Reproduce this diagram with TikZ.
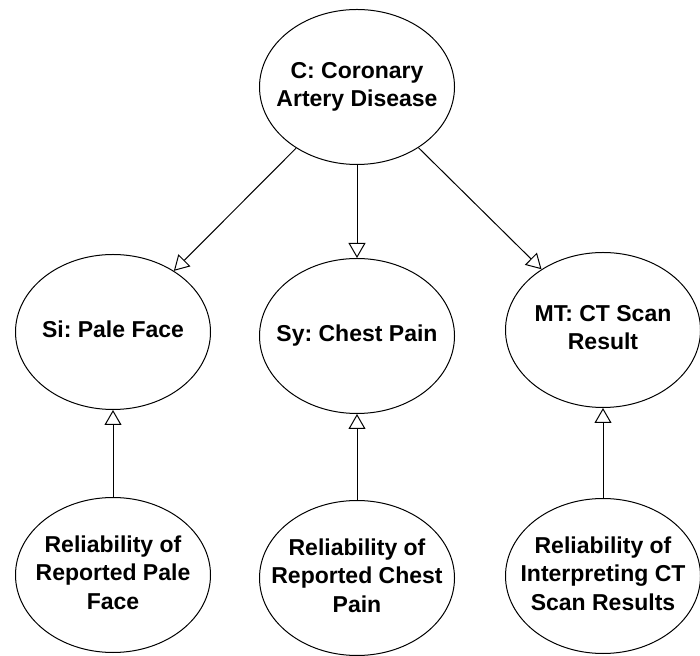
\documentclass[tikz,border=0pt]{standalone}
\usepackage{fontspec}
\setmainfont{Liberation Sans}
\usetikzlibrary{arrows.meta,shapes.geometric}
\newcommand{\nodelines}[1]{\makebox[0pt]{\begin{tabular}{@{}c@{}}#1\end{tabular}}}
\tikzset{
	bnode/.style={draw, ellipse, line width=1pt, minimum width=195pt, minimum height=155pt, inner sep=0pt, font=\bfseries\fontsize{23}{28.5}\selectfont\frenchspacing},
	dep/.style={line width=1pt, -{Triangle[open, width=17pt, length=15pt]}}
}

\begin{document}
\begin{tikzpicture}[x=1pt, y=1pt]
			%%%%% START %%%%%
			\useasboundingbox (0, 0) rectangle (700, 655);
			
			\node[bnode] (cad) at (357, 568) {\nodelines{C: Coronary\\Artery Disease}};
			
			\node[bnode] (pale) at (113, 323) {\nodelines{Si: Pale Face}};
			\node[bnode] (chest) at (357, 319) {\nodelines{Sy: Chest Pain}};
			\node[bnode] (ctscan) at (603, 325) {\nodelines{MT: CT Scan\\Result}};
			
			\node[bnode] (relpale) at (113, 80) {\nodelines{Reliability of\\Reported Pale\\Face}};
			\node[bnode] (relchest) at (357, 77) {\nodelines{Reliability of\\Reported Chest\\Pain}};
			\node[bnode] (relct) at (603, 79) {\nodelines{Reliability of\\Interpreting CT\\Scan Results}};
			
			\draw[dep] (cad) -- (pale);
			\draw[dep] (cad) -- (chest);
			\draw[dep] (cad) -- (ctscan);
			
			\draw[dep] (relpale) -- (pale);
			\draw[dep] (relchest) -- (chest);
			\draw[dep] (relct) -- (ctscan);
			
			%%%%% END %%%%%
		\end{tikzpicture}
\end{document}
